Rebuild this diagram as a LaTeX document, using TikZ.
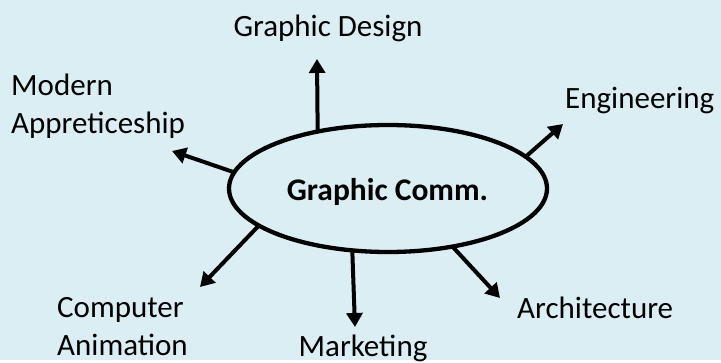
\documentclass[tikz,border=0pt]{standalone}
\usepackage{fontspec}
\setmainfont{Carlito}
\usepackage{tikz}
\usetikzlibrary{arrows.meta,shapes.geometric}
\definecolor{paleaqua}{HTML}{DAEEF3}
\tikzstyle{hub}=[ellipse,draw,line width=4.3pt,minimum width=318pt,minimum height=127pt,inner sep=0pt,outer sep=0pt]
\tikzstyle{topic}=[inner sep=0pt,align=left,font=\fontsize{31}{38.5}\selectfont]
\tikzstyle{spoke} = [draw,line width=4pt,-{Triangle[width=16pt,length=14pt]}]

\begin{document}
\begin{tikzpicture}[x=1pt,y=-1pt]
    % Background
    \fill[paleaqua] (0,0) rectangle (721,360);
    % The centre
    \node[hub] (comm) at (388,188.5) {};
    \node[anchor=base,inner sep=0pt,font=\fontsize{31.5}{38}\selectfont\bfseries] (commtext) at (387.5,201) {Graphic Comm.};
    % The topics around it
    \node[topic,anchor=base] (gd) at (328,37) {Graphic Design};
    \node[topic,anchor=base west] (ma) at (11,134) {Modern\\Appreticeship};
    \node[topic,anchor=base west] (eng) at (565,109) {Engineering};
    \node[topic,anchor=base west] (ca) at (57,356) {Computer\\Animation};
    \node[topic,anchor=base] (mkt) at (363,357) {Marketing};
    \node[topic,anchor=base west] (arch) at (517,319) {Architecture};
    % Arrow ends near each topic
    \coordinate (gdtip) at (317,59);
    \coordinate (matip) at (172,151);
    \coordinate (engtip) at (563,124);
    \coordinate (catip) at (200,287);
    \coordinate (mkttip) at (355,327);
    \coordinate (archtip) at (500,298);
    % Arrows from the centre out
    \path[spoke] (comm.141) -- (gdtip);
    \path[spoke] (comm.174) -- (matip);
    \path[spoke] (comm.13) -- (engtip);
    \path[spoke] (comm.196) -- (catip);
    \path[spoke] (comm.240) -- (mkttip);
    \path[spoke] (comm.318) -- (archtip);
\end{tikzpicture}
\end{document}
